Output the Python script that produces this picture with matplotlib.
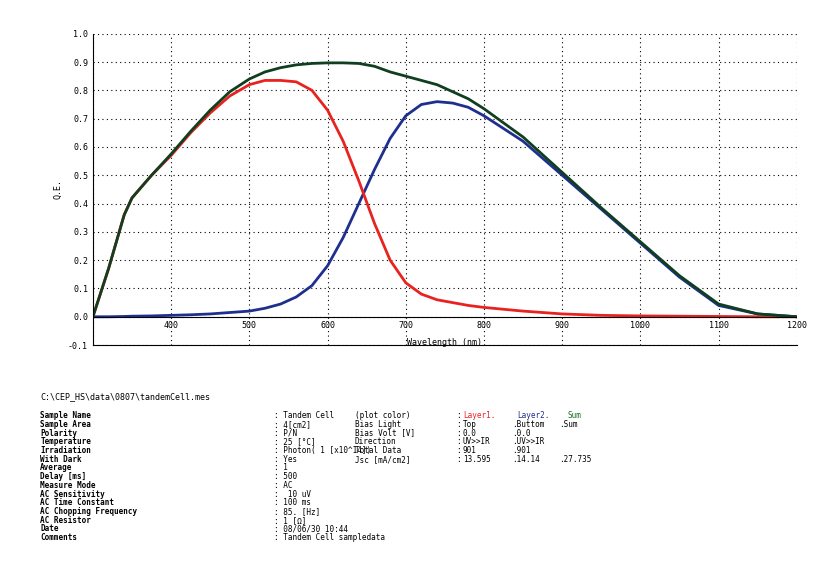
import numpy as np
import matplotlib.pyplot as plt

wl = [300, 320, 340, 350, 375, 400, 425, 450, 475, 500, 520, 540, 560, 580, 600, 620, 640, 660, 680, 700, 720, 740, 760, 780, 800, 850, 900, 950, 1000, 1050, 1100, 1150, 1200]
layer1 = [0.0, 0.17, 0.36, 0.42, 0.5, 0.57, 0.65, 0.72, 0.78, 0.82, 0.835, 0.835, 0.83, 0.8, 0.73, 0.62, 0.48, 0.33, 0.2, 0.12, 0.08, 0.06, 0.05, 0.04, 0.033, 0.02, 0.01, 0.005, 0.003, 0.002, 0.001, 0.0, 0.0]
layer2 = [0.0, 0.0, 0.001, 0.002, 0.003, 0.005, 0.007, 0.01, 0.015, 0.02, 0.03, 0.045, 0.07, 0.11, 0.18, 0.28, 0.4, 0.52, 0.63, 0.71, 0.75, 0.76, 0.755, 0.74, 0.71, 0.62, 0.5, 0.38, 0.26, 0.14, 0.04, 0.01, 0.0]
total = [0.0, 0.17, 0.36, 0.42, 0.5, 0.575, 0.655, 0.73, 0.795, 0.84, 0.865, 0.88, 0.89, 0.895, 0.897, 0.897, 0.895, 0.885, 0.865, 0.85, 0.835, 0.82, 0.795, 0.77, 0.735, 0.635, 0.51, 0.385, 0.265, 0.145, 0.045, 0.01, 0.0]

plt.rcParams['font.family'] = ['DejaVu Sans Mono']
fig = plt.figure(figsize=(8.37, 5.62), dpi=100)
ax = fig.add_axes([0.111, 0.386, 0.841, 0.554])
ax.plot(wl, layer2, color='#1f2f8f', lw=2)
ax.plot(wl, layer1, color='#e8231f', lw=2)
ax.plot(wl, total, color='#0f3f1f', lw=2)
ax.set_xlim(300, 1200)
ax.set_ylim(-0.1, 1.0)
ax.set_yticks(np.arange(-0.1, 1.01, 0.1))
ax.set_yticklabels(['-0.1', '0.0'] + ['%.1f' % v for v in np.arange(0.1, 1.01, 0.1)], fontsize=6)
ax.set_xticks(range(300, 1201, 100))
ax.set_xticklabels([])
for x in range(400, 1201, 100):
    ax.text(x, -0.03, str(x), ha='center', va='center', fontsize=6)
ax.text(750, -0.09, 'Wavelength (nm)', ha='center', va='center', fontsize=6)
ax.grid(True, ls=(0, (1, 3)), color='black', lw=0.8)
ax.axhline(0, color='black', lw=0.8)
ax.set_ylabel('Q.E.', fontsize=6)
for s in ['top', 'right']:
    ax.spines[s].set_visible(False)
ax.tick_params(length=0)

fig.text(0.048, 0.29, 'C:\\CEP_HS\\data\\0807\\tandemCell.mes', fontsize=6)
left = ['Sample Name', 'Sample Area', 'Polarity', 'Temperature', 'Irradiation', 'With Dark', 'Average',
        'Delay [ms]', 'Measure Mode', 'AC Sensitivity', 'AC Time Constant', 'AC Chopping Frequency',
        'AC Resistor', 'Date', 'Comments']
vals = ['Tandem Cell', '4[cm2]', 'P/N', '25 [\u00b0C]', 'Photon( 1 [x10^14])', 'Yes', '1', '500', 'AC',
        ' 10 uV', '100 ms', '85. [Hz]', '1 [\u03a9]', '08/06/30 10:44', 'Tandem Cell sampledata']
y0, dy = 0.256, 0.0155
for i, (k, v) in enumerate(zip(left, vals)):
    fig.text(0.048, y0 - i * dy, k, fontsize=5.5, weight='bold')
    fig.text(0.327, y0 - i * dy, ': ' + v, fontsize=5.5)
rk = ['(plot color)', 'Bias Light', 'Bias Volt [V]', 'Direction', 'Total Data', 'Jsc [mA/cm2]']
c1 = ['Top', '0.0', 'UV>>IR', '901', '13.595']
c2 = ['Buttom', '0.0', 'UV>>IR', '901', '14.14']
c3 = ['Sum', '', '', '', '27.735']
for i, k in enumerate(rk):
    y = y0 - i * dy
    fig.text(0.424, y, k, fontsize=5.5)
    fig.text(0.545, y, ':', fontsize=5.5)
for i in range(5):
    y = y0 - (i + 1) * dy
    fig.text(0.553, y, c1[i], fontsize=5.5)
    fig.text(0.612, y, '.' + c2[i], fontsize=5.5)
    if c3[i]:
        fig.text(0.668, y, '.' + c3[i], fontsize=5.5)
fig.text(0.553, y0, 'Layer1.', fontsize=5.5, color='#e8231f')
fig.text(0.618, y0, 'Layer2.', fontsize=5.5, color='#1f2f8f')
fig.text(0.678, y0, 'Sum', fontsize=5.5, color='#0f6f1f')

fig.savefig('out.png', dpi=100)
